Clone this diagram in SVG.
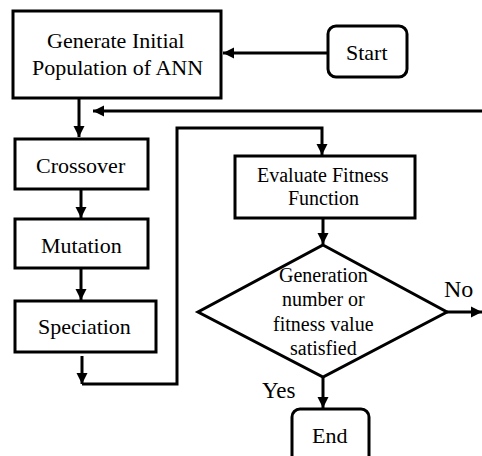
<svg xmlns="http://www.w3.org/2000/svg" width="482" height="456" viewBox="0 0 482 456">
<defs>
<marker id="ah" markerUnits="userSpaceOnUse" markerWidth="12" markerHeight="12" refX="11" refY="6" orient="auto">
<path d="M0,0.5 L11,6 L0,11.5 z" fill="#000"/>
</marker>
</defs>
<rect width="482" height="456" fill="#fff"/>
<g id="connectors" fill="none" stroke="#000" stroke-width="3">
<path d="M327,53 H223" marker-end="url(#ah)"/>
<path d="M79,98 V137" marker-end="url(#ah)"/>
<path d="M482,111 H93" marker-end="url(#ah)"/>
<path d="M81,189 V218" marker-end="url(#ah)"/>
<path d="M81,268 V300" marker-end="url(#ah)"/>
<path d="M82,356 V384" marker-end="url(#ah)"/>
<path d="M82,384 H177 V128 H322 V155" marker-end="url(#ah)"/>
<path d="M323,218 V244" marker-end="url(#ah)"/>
<path d="M447,312 H482" marker-end="url(#ah)"/>
<path d="M323,377 V408" marker-end="url(#ah)"/>
</g>
<g id="generate">
<rect x="13" y="11" width="208" height="87" fill="#fff" stroke="#000" stroke-width="3"/>
<text x="47" y="48" font-size="22" font-family="Liberation Serif">Generate Initial</text>
<text x="32" y="75" font-size="22" font-family="Liberation Serif">Population of ANN</text>
</g>
<g id="start">
<rect x="328" y="26" width="79" height="51" rx="8" fill="#fff" stroke="#000" stroke-width="3"/>
<text x="346" y="60" font-size="22" font-family="Liberation Serif">Start</text>
</g>
<g id="crossover">
<rect x="15" y="139" width="133" height="50" fill="#fff" stroke="#000" stroke-width="3"/>
<text x="36" y="173" font-size="22" font-family="Liberation Serif">Crossover</text>
</g>
<g id="mutation">
<rect x="15" y="219" width="133" height="49" fill="#fff" stroke="#000" stroke-width="3"/>
<text x="41" y="253" font-size="22" font-family="Liberation Serif">Mutation</text>
</g>
<g id="speciation">
<rect x="15" y="301" width="141" height="51" fill="#fff" stroke="#000" stroke-width="3"/>
<text x="38" y="334" font-size="22" font-family="Liberation Serif">Speciation</text>
</g>
<g id="evaluate">
<rect x="235" y="156" width="180" height="62" fill="#fff" stroke="#000" stroke-width="3"/>
<text x="257" y="182" font-size="20" font-family="Liberation Serif">Evaluate Fitness</text>
<text x="288" y="205" font-size="20" font-family="Liberation Serif">Function</text>
</g>
<g id="decision">
<path d="M323,245 L447,312 L323,377 L198,312 z" fill="#fff" stroke="#000" stroke-width="3"/>
<text x="279" y="282" font-size="20" font-family="Liberation Serif">Generation</text>
<text x="282" y="306" font-size="20" font-family="Liberation Serif">number or</text>
<text x="273" y="331" font-size="20" font-family="Liberation Serif">fitness value</text>
<text x="290" y="355" font-size="20" font-family="Liberation Serif">satisfied</text>
</g>
<g id="labels">
<text x="444" y="297" font-size="24" font-family="Liberation Serif">No</text>
<text x="262" y="398" font-size="23" font-family="Liberation Serif">Yes</text>
</g>
<g id="end">
<rect x="292" y="409" width="77" height="60" rx="8" fill="#fff" stroke="#000" stroke-width="3"/>
<text x="312" y="443" font-size="22" font-family="Liberation Serif">End</text>
</g>
</svg>
